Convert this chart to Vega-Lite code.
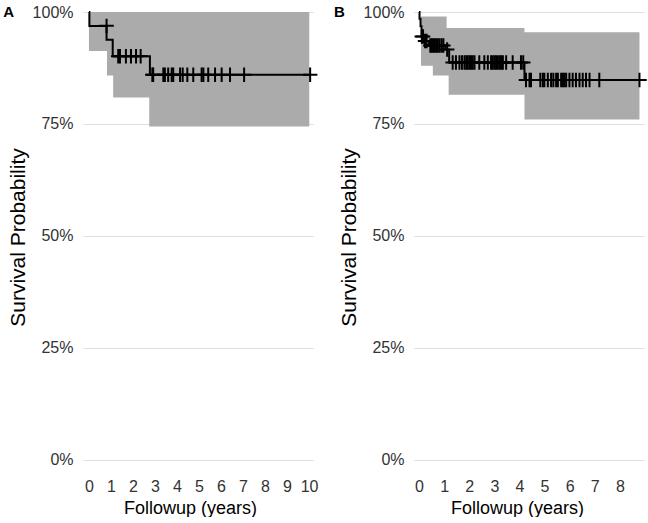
{
  "$schema": "https://vega.github.io/schema/vega-lite/v6.json",
  "background": "white",
  "padding": {"left": 3, "top": 4, "right": 0, "bottom": 0},
  "spacing": 11,
  "config": {
    "view": {"stroke": null},
    "axis": {
      "labelFont": "Liberation Sans",
      "labelFontSize": 16,
      "labelColor": "#333333",
      "titleFont": "Liberation Sans",
      "titleFontSize": 18,
      "titleFontWeight": "normal",
      "titleColor": "#000000",
      "ticks": false,
      "domain": false,
      "gridColor": "#DEDEDE",
      "gridWidth": 1.2,
      "labelOverlap": false,
      "labelFlush": false
    },
    "axisX": {"grid": false, "labelPadding": 5, "titlePadding": 5},
    "axisY": {"titleFontSize": 21, "labelPadding": 10, "titlePadding": 4}
  },
  "datasets": {
    "labA": [{"label": "A"}],
    "labB": [{"label": "B"}],
    "ciA": [
      {"t": 0, "lo": 0.913, "hi": 1},
      {"t": 0.82, "lo": 0.858, "hi": 1},
      {"t": 1.1, "lo": 0.809, "hi": 1},
      {"t": 2.74, "lo": 0.744, "hi": 1},
      {"t": 10.01, "lo": 0.744, "hi": 1}
    ],
    "kmA": [
      {"t": 0, "s": 1},
      {"t": 0.02, "s": 0.969},
      {"t": 0.8, "s": 0.938},
      {"t": 1.08, "s": 0.901},
      {"t": 2.77, "s": 0.86},
      {"t": 10.05, "s": 0.86}
    ],
    "censA": [
      {"t": 0.8, "s": 0.969},
      {"t": 1.33, "s": 0.901}, {"t": 1.41, "s": 0.901}, {"t": 1.68, "s": 0.901},
      {"t": 1.91, "s": 0.901}, {"t": 2.14, "s": 0.901}, {"t": 2.35, "s": 0.901},
      {"t": 2.88, "s": 0.86}, {"t": 2.92, "s": 0.86}, {"t": 3.38, "s": 0.86}, {"t": 3.45, "s": 0.86},
      {"t": 3.6, "s": 0.86}, {"t": 3.76, "s": 0.86}, {"t": 3.83, "s": 0.86}, {"t": 4.14, "s": 0.86},
      {"t": 4.26, "s": 0.86}, {"t": 4.47, "s": 0.86}, {"t": 4.74, "s": 0.86}, {"t": 5.12, "s": 0.86},
      {"t": 5.2, "s": 0.86}, {"t": 5.42, "s": 0.86}, {"t": 5.73, "s": 0.86}, {"t": 6.03, "s": 0.86},
      {"t": 6.41, "s": 0.86}, {"t": 7.05, "s": 0.86}, {"t": 10.05, "s": 0.86}
    ],
    "ciB": [
      {"t": 0.08, "lo": 0.88, "hi": 0.99},
      {"t": 0.55, "lo": 0.858, "hi": 0.99},
      {"t": 1.1, "lo": 0.858, "hi": 0.964},
      {"t": 1.18, "lo": 0.815, "hi": 0.964},
      {"t": 4.2, "lo": 0.76, "hi": 0.955},
      {"t": 8.78, "lo": 0.76, "hi": 0.955}
    ],
    "kmB": [
      {"t": 0, "s": 1},
      {"t": 0.02, "s": 0.985},
      {"t": 0.06, "s": 0.968},
      {"t": 0.1, "s": 0.945},
      {"t": 0.22, "s": 0.935},
      {"t": 0.4, "s": 0.925},
      {"t": 1.05, "s": 0.916},
      {"t": 1.2, "s": 0.887},
      {"t": 4.2, "s": 0.848},
      {"t": 8.78, "s": 0.848}
    ],
    "censB": [
      {"t": 0.11, "s": 0.945}, {"t": 0.16, "s": 0.945},
      {"t": 0.24, "s": 0.935}, {"t": 0.3, "s": 0.935},
      {"t": 0.45, "s": 0.925}, {"t": 0.5, "s": 0.925}, {"t": 0.56, "s": 0.925}, {"t": 0.62, "s": 0.925},
      {"t": 0.68, "s": 0.925}, {"t": 0.75, "s": 0.925}, {"t": 0.82, "s": 0.925}, {"t": 0.9, "s": 0.925},
      {"t": 0.97, "s": 0.925},
      {"t": 1.12, "s": 0.916},
      {"t": 1.34, "s": 0.887}, {"t": 1.47, "s": 0.887}, {"t": 1.61, "s": 0.887}, {"t": 1.71, "s": 0.887},
      {"t": 1.81, "s": 0.887}, {"t": 1.88, "s": 0.887}, {"t": 1.94, "s": 0.887}, {"t": 2.01, "s": 0.887},
      {"t": 2.07, "s": 0.887}, {"t": 2.14, "s": 0.887}, {"t": 2.21, "s": 0.887}, {"t": 2.4, "s": 0.887},
      {"t": 2.6, "s": 0.887}, {"t": 2.74, "s": 0.887}, {"t": 2.87, "s": 0.887}, {"t": 2.94, "s": 0.887},
      {"t": 3.01, "s": 0.887}, {"t": 3.07, "s": 0.887}, {"t": 3.14, "s": 0.887}, {"t": 3.21, "s": 0.887},
      {"t": 3.27, "s": 0.887}, {"t": 3.34, "s": 0.887}, {"t": 3.47, "s": 0.887}, {"t": 3.73, "s": 0.887},
      {"t": 4.06, "s": 0.887}, {"t": 4.15, "s": 0.887},
      {"t": 4.26, "s": 0.848}, {"t": 4.4, "s": 0.848}, {"t": 4.46, "s": 0.848}, {"t": 4.83, "s": 0.848},
      {"t": 4.93, "s": 0.848}, {"t": 4.99, "s": 0.848}, {"t": 5.13, "s": 0.848}, {"t": 5.26, "s": 0.848},
      {"t": 5.35, "s": 0.848}, {"t": 5.46, "s": 0.848}, {"t": 5.53, "s": 0.848}, {"t": 5.66, "s": 0.848},
      {"t": 5.73, "s": 0.848}, {"t": 5.79, "s": 0.848}, {"t": 5.86, "s": 0.848}, {"t": 5.99, "s": 0.848},
      {"t": 6.12, "s": 0.848}, {"t": 6.25, "s": 0.848}, {"t": 6.39, "s": 0.848}, {"t": 6.52, "s": 0.848},
      {"t": 6.65, "s": 0.848}, {"t": 6.79, "s": 0.848}, {"t": 7.18, "s": 0.848}, {"t": 8.78, "s": 0.848}
    ]
  },
  "hconcat": [
    {
      "width": 230,
      "height": 461,
      "layer": [
        {
          "data": {"name": "ciA"},
          "mark": {"type": "area", "interpolate": "step-after", "color": "#ABABAB", "opacity": 1},
          "encoding": {
            "x": {"field": "t", "type": "quantitative", "scale": {"domain": [-0.27, 10.18], "nice": false, "zero": false},
                  "axis": {"values": [0, 1, 2, 3, 4, 5, 6, 7, 8, 9, 10], "labelOverlap": false, "title": "Followup (years)", "titleX": 107}},
            "y": {"field": "lo", "type": "quantitative", "scale": {"domain": [-0.03, 1], "nice": false, "zero": false},
                  "axis": {"values": [0, 0.25, 0.5, 0.75, 1], "format": ".0%", "title": "Survival Probability", "titleY": 225}},
            "y2": {"field": "hi"}
          }
        },
        {
          "data": {"name": "kmA"},
          "mark": {"type": "line", "interpolate": "step-after", "color": "#000000", "strokeWidth": 2},
          "encoding": {
            "x": {"field": "t", "type": "quantitative", "scale": {"domain": [-0.27, 10.18], "nice": false, "zero": false},
                  "axis": {"values": [0, 1, 2, 3, 4, 5, 6, 7, 8, 9, 10], "labelOverlap": false, "title": "Followup (years)", "titleX": 107}},
            "y": {"field": "s", "type": "quantitative", "scale": {"domain": [-0.03, 1], "nice": false, "zero": false},
                  "axis": {"values": [0, 0.25, 0.5, 0.75, 1], "format": ".0%", "title": "Survival Probability", "titleY": 225}}
          }
        },
        {
          "data": {"name": "censA"},
          "mark": {"type": "point", "shape": "M-1,0L1,0M0,-1L0,1", "filled": false, "color": "#000000", "strokeWidth": 2, "size": 210, "opacity": 1},
          "encoding": {
            "x": {"field": "t", "type": "quantitative", "scale": {"domain": [-0.27, 10.18], "nice": false, "zero": false},
                  "axis": {"values": [0, 1, 2, 3, 4, 5, 6, 7, 8, 9, 10], "labelOverlap": false, "title": "Followup (years)", "titleX": 107}},
            "y": {"field": "s", "type": "quantitative", "scale": {"domain": [-0.03, 1], "nice": false, "zero": false},
                  "axis": {"values": [0, 0.25, 0.5, 0.75, 1], "format": ".0%", "title": "Survival Probability", "titleY": 225}}
          }
        },
        {
          "data": {"name": "labA"},
          "mark": {"type": "text", "align": "left", "baseline": "alphabetic", "font": "Liberation Sans", "fontSize": 15, "fontWeight": "bold", "color": "#000000"},
          "encoding": {
            "x": {"datum": -3.89, "type": "quantitative", "scale": {"domain": [-0.27, 10.18], "nice": false, "zero": false},
                  "axis": {"values": [0, 1, 2, 3, 4, 5, 6, 7, 8, 9, 10], "labelOverlap": false, "title": "Followup (years)", "titleX": 107}},
            "y": {"datum": 0.9895, "type": "quantitative", "scale": {"domain": [-0.03, 1], "nice": false, "zero": false},
                  "axis": {"values": [0, 0.25, 0.5, 0.75, 1], "format": ".0%", "title": "Survival Probability", "titleY": 225}},
            "text": {"field": "label"}
          }
        }
      ]
    },
    {
      "width": 230,
      "height": 461,
      "layer": [
        {
          "data": {"name": "ciB"},
          "mark": {"type": "area", "interpolate": "step-after", "color": "#ABABAB", "opacity": 1},
          "encoding": {
            "x": {"field": "t", "type": "quantitative", "scale": {"domain": [-0.2, 8.96], "nice": false, "zero": false},
                  "axis": {"values": [0, 1, 2, 3, 4, 5, 6, 7, 8], "labelOverlap": false, "title": "Followup (years)", "titleX": 103}},
            "y": {"field": "lo", "type": "quantitative", "scale": {"domain": [-0.03, 1], "nice": false, "zero": false},
                  "axis": {"values": [0, 0.25, 0.5, 0.75, 1], "format": ".0%", "title": "Survival Probability", "titleY": 225}},
            "y2": {"field": "hi"}
          }
        },
        {
          "data": {"name": "kmB"},
          "mark": {"type": "line", "interpolate": "step-after", "color": "#000000", "strokeWidth": 2},
          "encoding": {
            "x": {"field": "t", "type": "quantitative", "scale": {"domain": [-0.2, 8.96], "nice": false, "zero": false},
                  "axis": {"values": [0, 1, 2, 3, 4, 5, 6, 7, 8], "labelOverlap": false, "title": "Followup (years)", "titleX": 103}},
            "y": {"field": "s", "type": "quantitative", "scale": {"domain": [-0.03, 1], "nice": false, "zero": false},
                  "axis": {"values": [0, 0.25, 0.5, 0.75, 1], "format": ".0%", "title": "Survival Probability", "titleY": 225}}
          }
        },
        {
          "data": {"name": "censB"},
          "mark": {"type": "point", "shape": "M-1,0L1,0M0,-1L0,1", "filled": false, "color": "#000000", "strokeWidth": 2, "size": 210, "opacity": 1},
          "encoding": {
            "x": {"field": "t", "type": "quantitative", "scale": {"domain": [-0.2, 8.96], "nice": false, "zero": false},
                  "axis": {"values": [0, 1, 2, 3, 4, 5, 6, 7, 8], "labelOverlap": false, "title": "Followup (years)", "titleX": 103}},
            "y": {"field": "s", "type": "quantitative", "scale": {"domain": [-0.03, 1], "nice": false, "zero": false},
                  "axis": {"values": [0, 0.25, 0.5, 0.75, 1], "format": ".0%", "title": "Survival Probability", "titleY": 225}}
          }
        },
        {
          "data": {"name": "labB"},
          "mark": {"type": "text", "align": "left", "baseline": "alphabetic", "font": "Liberation Sans", "fontSize": 15, "fontWeight": "bold", "color": "#000000"},
          "encoding": {
            "x": {"datum": -3.39, "type": "quantitative", "scale": {"domain": [-0.2, 8.96], "nice": false, "zero": false},
                  "axis": {"values": [0, 1, 2, 3, 4, 5, 6, 7, 8], "labelOverlap": false, "title": "Followup (years)", "titleX": 103}},
            "y": {"datum": 0.9895, "type": "quantitative", "scale": {"domain": [-0.03, 1], "nice": false, "zero": false},
                  "axis": {"values": [0, 0.25, 0.5, 0.75, 1], "format": ".0%", "title": "Survival Probability", "titleY": 225}},
            "text": {"field": "label"}
          }
        }
      ]
    }
  ]
}
